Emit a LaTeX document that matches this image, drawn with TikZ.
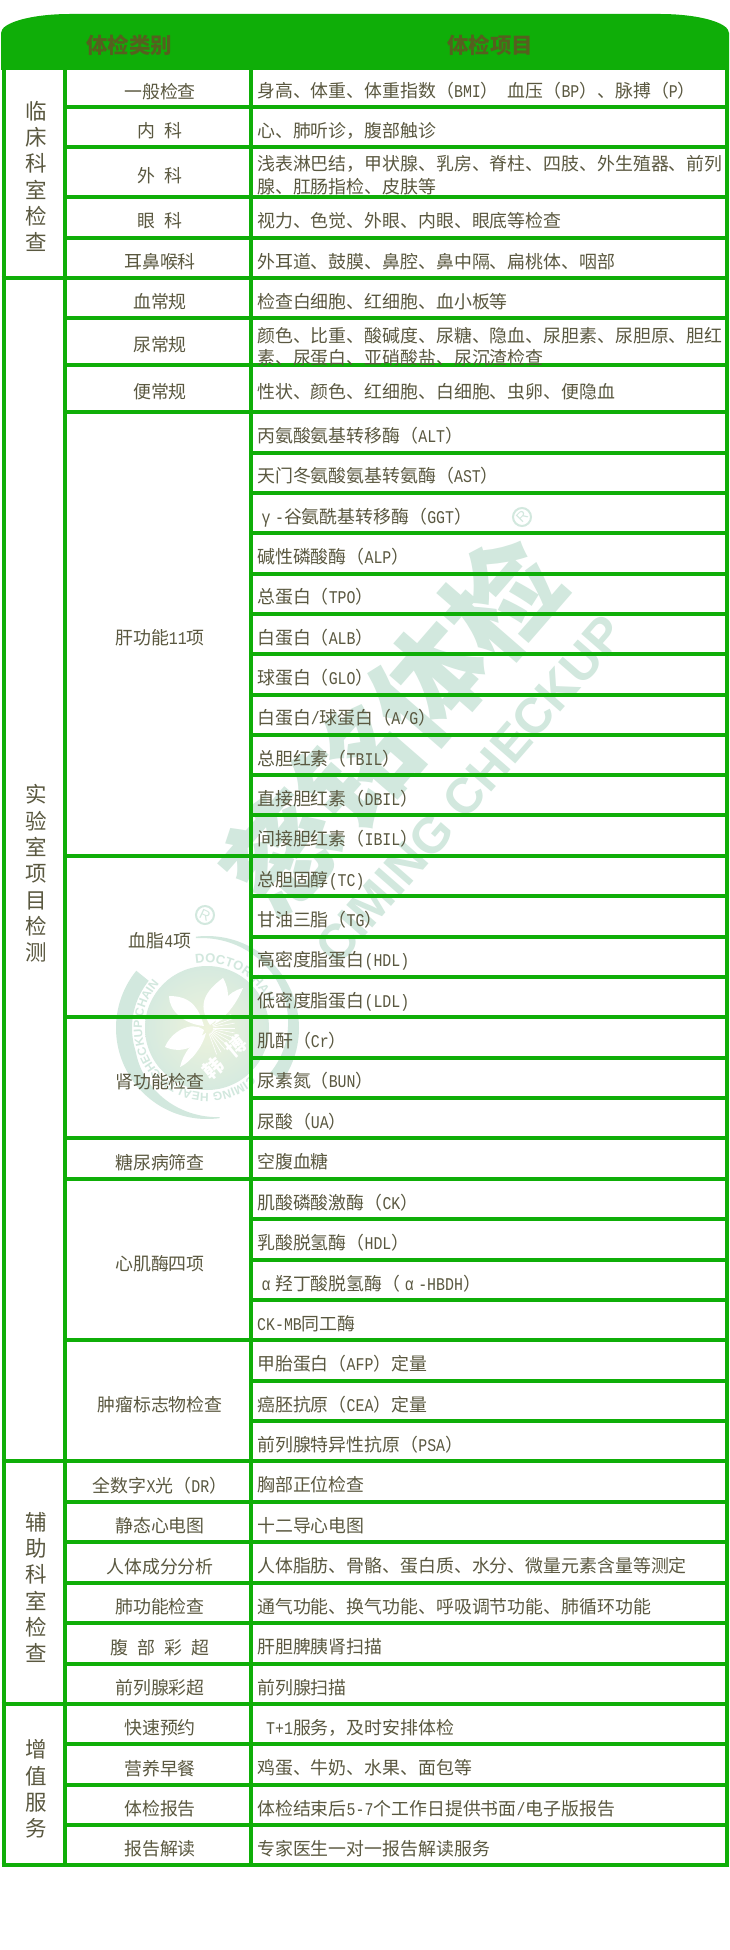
\documentclass[tikz,border=0pt]{standalone}
\usepackage{fontspec}
\usetikzlibrary{decorations.text}
\setmainfont{Noto Sans CJK SC}
\newfontfamily\lat[FakeStretch=0.833]{Liberation Mono}
\newfontfamily\wmsans{Liberation Sans}
\newcommand\hw[1]{{\lat #1}}
\newcommand\gk[1]{\makebox[17.9pt]{\lat #1}}
\definecolor{gridgreen}{HTML}{0FAE08}
\definecolor{wm}{HTML}{D2E8DE}
\definecolor{logoinner}{HTML}{EEF3DC}
\definecolor{logoouter}{HTML}{D6EADF}
\definecolor{inktext}{HTML}{5A5840}
\definecolor{headink}{HTML}{55601F}
\newcommand\catcell[4]{\node[cat] (#1) at (160,{-((#2+#3)/2+10.5)}) {#4};}
\newcommand\itemcell[4]{\node[item] (#1) at (257,{-((#2+#3)/2+10.2)}) {#4};}
\tikzset{
  gridline/.style={draw=gridgreen,line width=4pt,line cap=butt},
  cat/.style={anchor=base,inner sep=0pt,text=inktext,font=\fontsize{17.9}{22.6}\selectfont},
  item/.style={anchor=base west,inner sep=0pt,text=inktext,font=\fontsize{17.9}{22.6}\selectfont},
  section/.style={anchor=center,inner sep=0pt,align=center,text=inktext,font=\fontsize{21.5}{26.3}\selectfont},
  headtext/.style={anchor=center,inner sep=0pt,text=headink,font=\fontsize{21.5}{26}\selectfont\bfseries},
}
\begin{document}
\begin{tikzpicture}[x=1pt,y=1pt]
\useasboundingbox (0,0) rectangle (730,-1950);
\fill[white] (0,0) rectangle (730,-1950);
% ---------- watermark: brand lettering
\node[text=wm,inner sep=0pt,rotate=49,font=\fontsize{112}{112}\selectfont\bfseries] (brandcn) at (392,-725) {慈铭体检};
\node[text=wm,inner sep=0pt,rotate=49,font=\wmsans\bfseries\fontsize{50}{50}\selectfont] (branden) at (470,-790) {CIMING CHECKUP};
\node[circle,draw=wm,line width=2pt,minimum size=18pt,inner sep=0pt,text=wm,rotate=45,font=\wmsans\fontsize{14}{14}\selectfont] (regone) at (522,-517) {R};
\node[circle,draw=wm,line width=2pt,minimum size=18pt,inner sep=0pt,text=wm,rotate=-25,font=\wmsans\fontsize{14}{14}\selectfont] (regtwo) at (205,-915) {R};
% ---------- watermark: round logo
\begin{scope}[shift={(207,-1028)}]
  \shade[inner color=logoinner,outer color=logoouter] (0,0) circle[radius=62pt];
  \fill[wm] plot[domain=97:-35,samples=50] (\x:92) -- plot[domain=-35:97,samples=50] (\x:{90.5-13*(97-\x)/132}) -- cycle;
  \fill[wm] plot[domain=-82:-219,samples=60] (\x:91) -- plot[domain=-219:-82,samples=60] (\x:{90-15*min(1,(-82-\x)/80)}) -- cycle;
  \path[decorate,decoration={text along path,text align=center,
     text={|\wmsans\bfseries\fontsize{12}{12}\selectfont\color{wm}|CIMING HEALTH CHECKUP CHAIN}}]
     (-48:65) arc[start angle=-48,end angle=-222,radius=65pt];
  \path[decorate,decoration={text along path,text align=left,
     text={|\wmsans\bfseries\fontsize{13}{13}\selectfont\color{wm}|DOCTOR HAN}}]
     (100:65) arc[start angle=100,end angle=-10,radius=65pt];
  % flower
  \fill[white] (3,3) .. controls (-8,20) and (-6,34) .. (16,50) .. controls (24,36) and (24,18) .. (3,3) -- cycle;
  \fill[white] (8,4) .. controls (22,14) and (30,26) .. (36,40) .. controls (20,36) and (12,24) .. (8,4) -- cycle;
  \fill[white] (-3,2) .. controls (-8,18) and (-14,32) .. (-38,32) .. controls (-38,18) and (-24,4) .. (-3,2) -- cycle;
  \fill[white] (-3,-2) .. controls (-16,8) and (-36,-4) .. (-42,-19) .. controls (-26,-26) and (-8,-20) .. (-3,-2) -- cycle;
  \fill[white] (-1,-5) .. controls (-4,-18) and (-16,-34) .. (-27,-39) .. controls (-24,-26) and (-14,-12) .. (-1,-5) -- cycle;
  \foreach \a in {-70,-60,...,30}{\draw[white,line width=0.6pt] (\a:6) -- (\a:28);}
  \node[text=white,inner sep=0pt,rotate=40,font=\fontsize{20}{20}\selectfont\bfseries] (logohan) at (6,-40) {韩};
  \node[text=white,inner sep=0pt,rotate=40,font=\fontsize{20}{20}\selectfont\bfseries] (logobo) at (29,-18) {博};
\end{scope}
% ---------- header band
\fill[gridgreen] (1,-70) -- (1,-33) .. controls (1,-22.5) and (32,-14) .. (70,-14) -- (660,-14) .. controls (698,-14) and (729,-22.5) .. (729,-33) -- (729,-70) -- cycle;
% ---------- grid
\foreach \x in {3.5,65,251,727}{\draw[gridline] (\x,-66) -- (\x,-1867);}
\foreach \y in {278,1461,1704,1865}{\draw[gridline] (1.5,-\y) -- (65,-\y);}
\foreach \y in {107.5,147.5,197,238,278,318,365,411.5,856,1017,1138,1179,1340,1461,1502,1542,1583,1623,1664,1704,1744,1785,1825,1865}{\draw[gridline] (65,-\y) -- (251,-\y);}
\foreach \y in {107.5,147.5,197,238,278,318,365,411.5,452.5,493,533.3,573.6,613.9,654.2,694.5,734.8,775,815.4,856,896,936.5,977,1017,1057.5,1098,1138,1179,1219,1260,1300,1340,1381,1421,1461,1502,1542,1583,1623,1664,1704,1744,1785,1825,1865}{\draw[gridline] (251,-\y) -- (729,-\y);}
% ---------- header text
\node[headtext] (headcat) at (129,-45) {体检类别};
\node[headtext] (headitem) at (490,-45) {体检项目};
% ---------- section labels
\node[section] (secclin) at (36,-176.5) {临\\床\\科\\室\\检\\查};
\node[section] (seclab) at (36,-873.5) {实\\验\\室\\项\\目\\检\\测};
\node[section] (secaux) at (36,-1587.5) {辅\\助\\科\\室\\检\\查};
\node[section] (secadd) at (36,-1789) {增\\值\\服\\务};
% ---------- clinical
\catcell{c1}{68}{107.5}{一般检查}
\itemcell{i1}{68}{107.5}{身高、体重、体重指数（\hw{BMI}）\hspace{9pt}血压（\hw{BP}）、脉搏（\hw{P}）}
\catcell{c2}{107.5}{147.5}{内\hspace{9pt}科}
\itemcell{i2}{107.5}{147.5}{心、肺听诊，腹部触诊}
\catcell{c3}{147.5}{197}{外\hspace{9pt}科}
\node[item] (i3a) at (257,-171) {浅表淋巴结，甲状腺、乳房、脊柱、四肢、外生殖器、前列};
\node[item] (i3b) at (257,-193.5) {腺、肛肠指检、皮肤等};
\catcell{c4}{197}{238}{眼\hspace{9pt}科}
\itemcell{i4}{197}{238}{视力、色觉、外眼、内眼、眼底等检查}
\catcell{c5}{238}{278}{耳鼻喉科}
\itemcell{i5}{238}{278}{外耳道、鼓膜、鼻腔、鼻中隔、扁桃体、咽部}
% ---------- laboratory
\catcell{c6}{278}{318}{血常规}
\itemcell{i6}{278}{318}{检查白细胞、红细胞、血小板等}
\catcell{c7}{318}{365}{尿常规}
\node[item] (i7a) at (257,-342) {颜色、比重、酸碱度、尿糖、隐血、尿胆素、尿胆原、胆红};
\node[item] (i7b) at (257,-364) {素、尿蛋白、亚硝酸盐、尿沉渣检查};
\catcell{c8}{365}{411.5}{便常规}
\itemcell{i8}{365}{411.5}{性状、颜色、红细胞、白细胞、虫卵、便隐血}
\catcell{c9}{411.5}{856}{肝功能\hw{11}项}
\itemcell{l1}{411.5}{452.5}{丙氨酸氨基转移酶（\hw{ALT}）}
\itemcell{l2}{452.5}{493}{天门冬氨酸氨基转氨酶（\hw{AST}）}
\itemcell{l3}{493}{533.3}{\gk{γ}\hw{-}谷氨酰基转移酶（\hw{GGT}）}
\itemcell{l4}{533.3}{573.6}{碱性磷酸酶（\hw{ALP}）}
\itemcell{l5}{573.6}{613.9}{总蛋白（\hw{TPO}）}
\itemcell{l6}{613.9}{654.2}{白蛋白（\hw{ALB}）}
\itemcell{l7}{654.2}{694.5}{球蛋白（\hw{GLO}）}
\itemcell{l8}{694.5}{734.8}{白蛋白\hw{/}球蛋白（\hw{A/G}）}
\itemcell{l9}{734.8}{775}{总胆红素（\hw{TBIL}）}
\itemcell{l10}{775}{815.4}{直接胆红素（\hw{DBIL}）}
\itemcell{l11}{815.4}{856}{间接胆红素（\hw{IBIL}）}
\catcell{c10}{856}{1017}{血脂\hw{4}项}
\itemcell{b1}{856}{896}{总胆固醇\hw{(TC)}}
\itemcell{b2}{896}{936.5}{甘油三脂（\hw{TG}）}
\itemcell{b3}{936.5}{977}{高密度脂蛋白\hw{(HDL)}}
\itemcell{b4}{977}{1017}{低密度脂蛋白\hw{(LDL)}}
\catcell{c11}{1017}{1138}{肾功能检查}
\itemcell{k1}{1017}{1057.5}{肌酐（\hw{Cr}）}
\itemcell{k2}{1057.5}{1098}{尿素氮（\hw{BUN}）}
\itemcell{k3}{1098}{1138}{尿酸（\hw{UA}）}
\catcell{c12}{1138}{1179}{糖尿病筛查}
\itemcell{g1}{1138}{1179}{空腹血糖}
\catcell{c13}{1179}{1340}{心肌酶四项}
\itemcell{m1}{1179}{1219}{肌酸磷酸激酶（\hw{CK}）}
\itemcell{m2}{1219}{1260}{乳酸脱氢酶（\hw{HDL}）}
\itemcell{m3}{1260}{1300}{\gk{α}羟丁酸脱氢酶（\gk{α}\hw{-HBDH}）}
\itemcell{m4}{1300}{1340}{\hw{CK-MB}同工酶}
\catcell{c14}{1340}{1461}{肿瘤标志物检查}
\itemcell{t1}{1340}{1381}{甲胎蛋白（\hw{AFP}）定量}
\itemcell{t2}{1381}{1421}{癌胚抗原（\hw{CEA}）定量}
\itemcell{t3}{1421}{1461}{前列腺特异性抗原（\hw{PSA}）}
% ---------- auxiliary
\catcell{c15}{1461}{1502}{全数字\hw{X}光（\hw{DR}）}
\itemcell{a1}{1461}{1502}{胸部正位检查}
\catcell{c16}{1502}{1542}{静态心电图}
\itemcell{a2}{1502}{1542}{十二导心电图}
\catcell{c17}{1542}{1583}{人体成分分析}
\itemcell{a3}{1542}{1583}{人体脂肪、骨骼、蛋白质、水分、微量元素含量等测定}
\catcell{c18}{1583}{1623}{肺功能检查}
\itemcell{a4}{1583}{1623}{通气功能、换气功能、呼吸调节功能、肺循环功能}
\catcell{c19}{1623}{1664}{腹\hspace{9pt}部\hspace{9pt}彩\hspace{9pt}超}
\itemcell{a5}{1623}{1664}{肝胆脾胰肾扫描}
\catcell{c20}{1664}{1704}{前列腺彩超}
\itemcell{a6}{1664}{1704}{前列腺扫描}
% ---------- value-added
\catcell{c21}{1704}{1744}{快速预约}
\itemcell{v1}{1704}{1744}{\hspace{9pt}\hw{T+1}服务，及时安排体检}
\catcell{c22}{1744}{1785}{营养早餐}
\itemcell{v2}{1744}{1785}{鸡蛋、牛奶、水果、面包等}
\catcell{c23}{1785}{1825}{体检报告}
\itemcell{v3}{1785}{1825}{体检结束后\hw{5-7}个工作日提供书面\hw{/}电子版报告}
\catcell{c24}{1825}{1865}{报告解读}
\itemcell{v4}{1825}{1865}{专家医生一对一报告解读服务}
\end{tikzpicture}
\end{document}
